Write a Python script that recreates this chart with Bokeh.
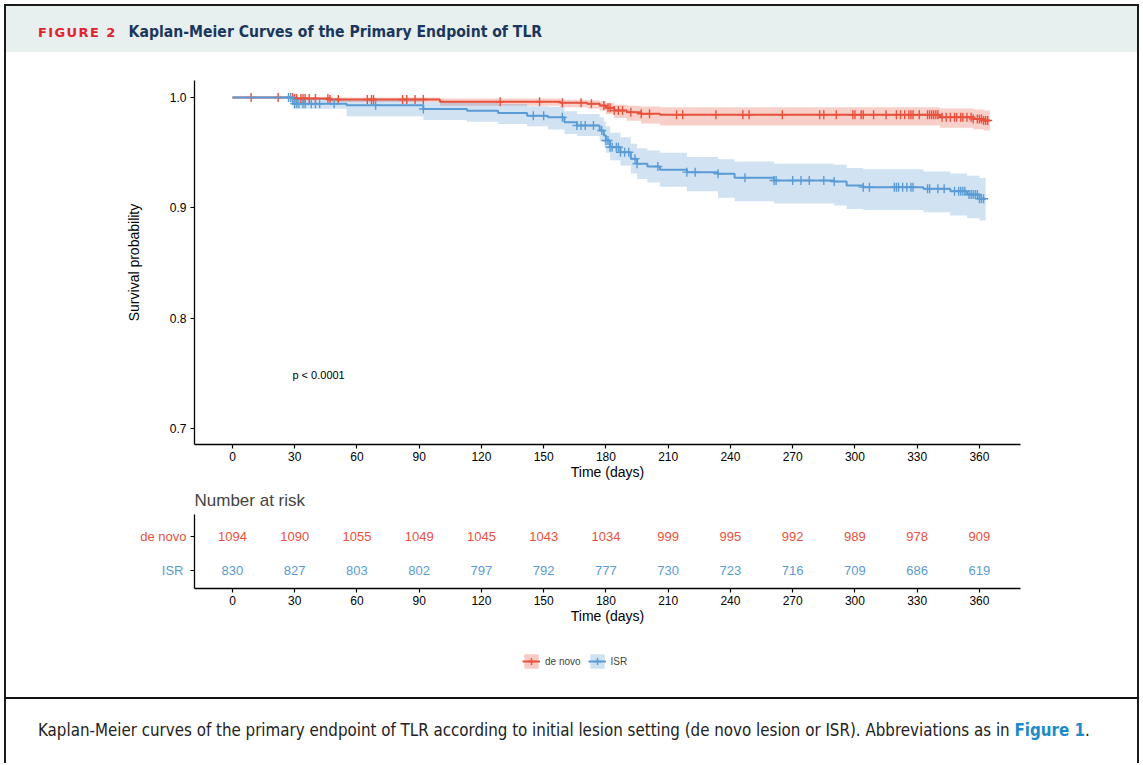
import numpy as np
from bokeh.plotting import figure
from bokeh.models import (Range1d, FixedTicker, Label, Legend, LegendItem, NumeralTickFormatter,
                          ColumnDataSource, LinearAxis, Div)
from bokeh.layouts import column
from bokeh.embed import file_html
from bokeh.resources import INLINE

# ---------------- data ----------------
groups = ["de novo", "ISR"]

denovo_time = [0, 30, 47, 100, 158, 171, 177, 180, 184, 190, 197, 206, 341, 357, 362]
denovo_surv = [1.0, 0.9991, 0.9982, 0.9962, 0.9953, 0.9943, 0.9927, 0.9906, 0.9882, 0.9867, 0.9852, 0.9843, 0.9821, 0.9806, 0.9791]
denovo_lower = [1.0, 0.9975, 0.9960, 0.9925, 0.9912, 0.9900, 0.9880, 0.9850, 0.9815, 0.9790, 0.9765, 0.9745, 0.9725, 0.9712, 0.9700]
denovo_upper = [1.0, 1.0, 1.0, 0.9990, 0.9980, 0.9975, 0.9965, 0.9950, 0.9935, 0.9925, 0.9918, 0.9912, 0.9900, 0.9890, 0.9882]
denovo_end = 365
denovo_censor = [9, 22, 29, 30, 31, 33, 34, 35, 37, 40, 46, 47, 51, 65, 67, 68, 82, 84, 88, 92, 129, 148,
                 159, 168, 173, 179, 181, 182, 184, 186, 188, 192, 197, 201, 214, 217, 233, 246, 249, 265,
                 283, 285, 291, 299, 300, 303, 304, 309, 315, 320, 322, 324, 326, 327, 328, 331, 335, 336,
                 337, 338, 339, 340, 342, 344, 346, 348, 349, 351, 352, 354, 356, 357, 359, 360, 361, 362, 363, 364]

isr_time = [0, 29, 55, 92, 113, 128, 142, 152, 160, 166, 177, 179, 180, 182, 187, 192, 195, 200, 206,
            219, 234, 242, 261, 290, 296, 304, 333, 346, 354, 360]
isr_surv = [1.0, 0.9943, 0.9930, 0.9895, 0.9880, 0.9860, 0.9835, 0.9820, 0.9776, 0.9746, 0.9701, 0.9655,
            0.9610, 0.9549, 0.9504, 0.9444, 0.9399, 0.9374, 0.9344, 0.9323, 0.9308, 0.9272, 0.9248, 0.9238,
            0.9202, 0.9187, 0.9172, 0.9150, 0.9121, 0.9082]
isr_lower = [1.0, 0.9898, 0.983, 0.9795, 0.978, 0.976, 0.974, 0.971, 0.967, 0.965, 0.960, 0.955, 0.950,
             0.943, 0.938, 0.931, 0.926, 0.923, 0.919, 0.915, 0.909, 0.906, 0.904, 0.902, 0.899, 0.898,
             0.896, 0.893, 0.8905, 0.8885]
isr_upper = [1.0, 0.9990, 0.9985, 0.996, 0.995, 0.994, 0.992, 0.9915, 0.9875, 0.985, 0.982, 0.978, 0.974,
             0.968, 0.964, 0.958, 0.954, 0.952, 0.950, 0.946, 0.944, 0.942, 0.940, 0.939, 0.936, 0.935,
             0.933, 0.931, 0.929, 0.927]
isr_end = 363
isr_censor = [27, 28, 30, 31, 32, 34, 35, 38, 40, 42, 49, 69, 92, 145, 150, 159, 166, 168, 170, 174, 178,
              180, 181, 182, 183, 185, 186, 187, 189, 191, 194, 195, 205, 219, 223, 234, 247, 261, 262,
              270, 274, 278, 285, 290, 304, 307, 319, 320, 321, 323, 325, 327, 328, 335, 336, 340, 343,
              348, 350, 351, 352, 353, 355, 356, 357, 358, 359, 360, 361, 362]

risk_times = [0, 30, 60, 90, 120, 150, 180, 210, 240, 270, 300, 330, 360]
denovo_risk = [1094, 1090, 1055, 1049, 1045, 1043, 1034, 999, 995, 992, 989, 978, 909]
isr_risk = [830, 827, 803, 802, 797, 792, 777, 730, 723, 716, 709, 686, 619]

p_value_text = "p < 0.0001"
y_ticks = [0.7, 0.8, 0.9, 1.0]

fig_label = "FIGURE 2"
fig_title = "Kaplan-Meier Curves of the Primary Endpoint of TLR"
caption_text = ("Kaplan-Meier curves of the primary endpoint of TLR according to initial lesion setting "
                "(de novo lesion or ISR). Abbreviations as in ")
caption_link = "Figure 1"

RED = "#E8513C"
BLUE = "#5A9BD5"
FONT = "Liberation Sans"
W = 1131
BL, BR = 188, 117

# ---------------- header (HTML) ----------------
head = Div(width=W, height=46, margin=0, text=(
    '<div style="width:%dpx;height:46px;background:#E8F0EF;box-sizing:border-box;'
    'padding:16px 0 0 32px;line-height:20px;white-space:nowrap;">'
    '<span style="font-family:\'DejaVu Sans\';font-weight:bold;font-size:13px;letter-spacing:1.4px;'
    'color:#E2232E;">%s</span>'
    '<span style="font-family:\'DejaVu Sans Condensed\';font-weight:bold;font-size:15.6px;'
    'color:#1B365D;margin-left:12px;">%s</span></div>') % (W, fig_label, fig_title))

# ---------------- KM plot ----------------
XR = (-18.3, 379.8)
p = figure(width=W, height=431, x_range=Range1d(*XR), y_range=Range1d(0.6854, 1.0154),
           min_border_left=BL, min_border_right=BR, min_border_top=28, min_border_bottom=39,
           output_backend="svg", toolbar_location=None)
p.grid.visible = False
p.outline_line_color = None

def step_ext(t, s, end):
    return list(t) + [end], list(s) + [s[-1]]

series = [(denovo_time, denovo_surv, denovo_lower, denovo_upper, denovo_end, denovo_censor, RED),
          (isr_time, isr_surv, isr_lower, isr_upper, isr_end, isr_censor, BLUE)]

for t, s, lo, up, end, cens, col in series:
    tx, _ = step_ext(t, s, end)
    _, ly = step_ext(t, lo, end)
    _, uy = step_ext(t, up, end)
    p.varea_step(x=tx, y1=ly, y2=uy, step_mode="after", fill_color=col, fill_alpha=0.28)

for t, s, lo, up, end, cens, col in series:
    tx, sy = step_ext(t, s, end)
    p.step(x=tx, y=sy, mode="after", line_color=col, line_width=2)
    idx = np.searchsorted(np.array(t), np.array(cens), side="right") - 1
    cy = [s[i] for i in idx]
    p.scatter(x=cens, y=cy, marker="cross", size=9, line_color=col, line_width=1.4)

p.add_layout(Label(x=28.9, y=0.748, text=p_value_text, text_font=FONT, text_font_size="11px",
                   text_baseline="middle", text_align="left", text_color="black"))

def style_axes(fig):
    for ax in fig.axis:
        ax.axis_line_color = "black"
        ax.axis_line_width = 1.3
        ax.major_tick_line_color = "black"
        ax.major_tick_line_width = 1.2
        ax.major_tick_in = 0
        ax.major_tick_out = 4
        ax.minor_tick_line_color = None
        ax.major_label_text_font = FONT
        ax.major_label_text_font_size = "12px"
        ax.major_label_text_color = "black"
        ax.axis_label_text_font = FONT
        ax.axis_label_text_font_size = "14px"
        ax.axis_label_text_font_style = "normal"
        ax.axis_label_text_color = "black"

style_axes(p)
p.xaxis.ticker = FixedTicker(ticks=risk_times)
p.xaxis.axis_label = "Time (days)"
p.xaxis.major_label_standoff = 3
p.xaxis.axis_label_standoff = 0
p.yaxis.ticker = FixedTicker(ticks=y_ticks)
p.yaxis.formatter = NumeralTickFormatter(format="0.0")
p.yaxis.axis_label = "Survival probability"
p.yaxis.major_label_standoff = 4
p.yaxis.axis_label_standoff = 25

# ---------------- risk table ----------------
r = figure(width=W, height=157, x_range=Range1d(*XR), y_range=Range1d(0.486, 2.629),
           min_border_left=BL, min_border_right=BR, min_border_top=30, min_border_bottom=52,
           output_backend="svg", toolbar_location=None, title="Number at risk")
r.grid.visible = False
r.outline_line_color = None
r.title.text_font = FONT
r.title.text_font_size = "17px"
r.title.text_font_style = "normal"
r.title.align = "left"
style_axes(r)
r.xaxis.ticker = FixedTicker(ticks=risk_times)
r.xaxis.axis_label = "Time (days)"
r.xaxis.major_label_standoff = 3
r.xaxis.axis_label_standoff = 0
# inner y axis: line, ticks and the red "de novo" row label
r.yaxis.ticker = FixedTicker(ticks=[1, 2])
r.yaxis.major_label_overrides = {1: " ", 2: groups[0]}
r.yaxis.major_label_text_color = RED
r.yaxis.major_label_text_font_size = "13px"
r.yaxis.major_label_standoff = 4
# outer y axis carrying only the blue "ISR" row label, pulled back next to the inner axis
isr_ax = LinearAxis(ticker=FixedTicker(ticks=[1]), major_label_overrides={1: groups[1]},
                    axis_line_color=None, major_tick_line_color=None, minor_tick_line_color=None,
                    major_tick_in=0, major_tick_out=0,
                    major_label_text_color=BLUE, major_label_text_font=FONT,
                    major_label_text_font_size="13px", major_label_standoff=-46)
r.add_layout(isr_ax, "left")

r.text(x=risk_times, y=[2] * len(risk_times), text=[str(v) for v in denovo_risk],
       text_color=RED, text_align="center", text_baseline="middle",
       text_font={"value": FONT}, text_font_size="13px")
r.text(x=risk_times, y=[1] * len(risk_times), text=[str(v) for v in isr_risk],
       text_color=BLUE, text_align="center", text_baseline="middle",
       text_font={"value": FONT}, text_font_size="13px")

# ---------------- legend ----------------
lg = figure(width=W, height=44, x_range=Range1d(0, 1), y_range=Range1d(0, 1),
            x_axis_location=None, y_axis_location=None, min_border_left=BL, min_border_right=BR,
            min_border_top=0, min_border_bottom=0, output_backend="svg", toolbar_location=None)
lg.grid.visible = False
lg.outline_line_color = None
items = []
for name, col in [(groups[0], RED), (groups[1], BLUE)]:
    src = ColumnDataSource(dict(x=[-5, -4], y=[-5, -5], y1=[-6, -6], y2=[-5, -5]))
    rb = lg.varea(x="x", y1="y1", y2="y2", source=src, fill_color=col, fill_alpha=0.3)
    rl = lg.line(x="x", y="y", source=src, line_color=col, line_width=2)
    rs = lg.scatter(x="x", y="y", source=src, marker="cross", size=10, line_color=col, line_width=1.4)
    items.append(LegendItem(label=name, renderers=[rb, rl, rs]))
legend = Legend(items=items, orientation="horizontal", location=(328, 14), glyph_width=18, glyph_height=18,
                label_text_font=FONT, label_text_font_size="10px", border_line_color=None,
                background_fill_alpha=0, spacing=7, padding=0, label_standoff=5, margin=0)
lg.add_layout(legend)

# ---------------- caption (HTML) ----------------
cap = Div(width=W, height=79, margin=0, text=(
    '<div style="width:%dpx;height:79px;box-sizing:border-box;padding-top:13px;">'
    '<div style="border-top:2px solid #111;box-sizing:border-box;padding:21px 0 0 32px;line-height:20px;'
    'white-space:nowrap;font-family:\'DejaVu Sans Condensed\';font-size:16.8px;color:#222;">'
    '%s<span style="font-weight:bold;color:#1C8BC7;">%s</span>.</div></div>') % (W, caption_text, caption_link))

layout = column(head, p, r, lg, cap, spacing=0,
                styles={"border": "2px solid #1a1a1a", "border-bottom": "none", "margin": "4px 0 0 4px"})
open("out.html", "w").write(file_html(layout, INLINE))
